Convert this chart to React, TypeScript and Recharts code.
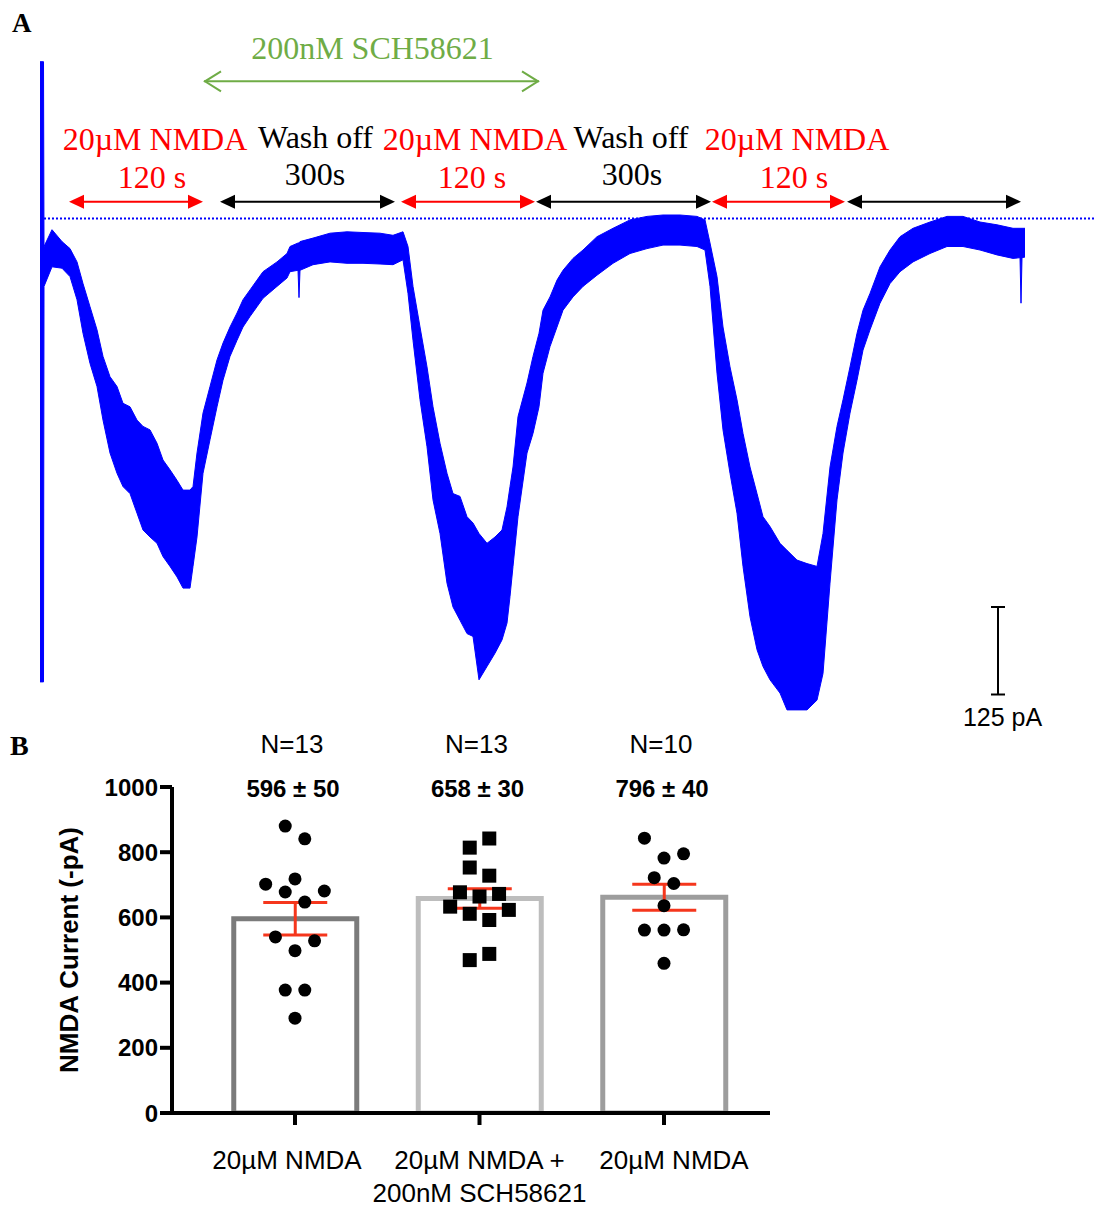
import React from "react";
import {
  ComposedChart,
  Area,
  Bar,
  Cell,
  ErrorBar,
  Scatter,
  XAxis,
  YAxis,
  ReferenceLine,
} from "recharts";

// ---- Panel A: whole-cell current trace (envelope of the noisy trace, pA) ----
const TRACE_T = [
  -4, -0.5, 0, 8, 18, 26, 33, 39, 46, 53, 59, 66, 73, 79, 86, 93, 99, 106, 113, 119, 126, 133, 139, 146, 149,
  153, 159, 166, 173, 179, 186, 193, 199, 206, 213, 219, 233, 243, 246, 254, 255, 256, 269, 286, 303, 319, 336,
  349, 359, 364, 369, 376, 383, 389, 396, 403, 409, 416, 423, 429, 435, 443, 451, 458, 463, 466, 469, 474, 483,
  489, 495, 499, 506, 513, 519, 529, 539, 553, 569, 586, 603, 619, 636, 653, 661, 666, 673, 679, 686, 693, 699,
  706, 713, 719, 726, 736, 743, 753, 763, 773, 779, 786, 793, 799, 806, 813, 819, 826, 836, 846, 856, 869, 886,
  903, 919, 936, 953, 969, 976, 977, 978, 981,
];
const TRACE_HIGH = [
  224, 224, -40, -16, -33, -43, -62, -93, -126, -159, -197, -226, -240, -264, -269, -288, -297, -302, -321, -345,
  -359, -374, -388, -388, -383, -335, -278, -240, -202, -178, -155, -135, -116, -102, -88, -76, -62, -50, -40,
  -35, -35, -33, -28, -21, -19, -20, -21, -24, -19, -40, -97, -155, -212, -269, -321, -364, -393, -397, -426,
  -435, -450, -464, -455, -445, -412, -383, -355, -283, -235, -197, -164, -131, -112, -88, -74, -57, -45, -26,
  -14, -2, 3, 5, 5, 3, -2, -35, -83, -155, -212, -259, -307, -355, -393, -426, -440, -464, -474, -488, -493,
  -497, -450, -355, -297, -259, -212, -164, -131, -107, -69, -45, -26, -14, -5, 3, 3, -5, -9, -14, -14, -14,
  -14, -14,
];
const TRACE_LOW = [
  -662, -662, -97, -69, -71, -83, -116, -164, -207, -240, -288, -335, -364, -383, -393, -421, -445, -455, -464,
  -483, -497, -512, -528, -528, -497, -455, -364, -316, -269, -231, -197, -174, -155, -140, -126, -114, -97,
  -85, -76, -74, -113, -74, -66, -62, -64, -64, -65, -66, -59, -107, -174, -259, -326, -402, -450, -521, -555,
  -574, -593, -597, -659, -640, -621, -602, -578, -540, -497, -426, -335, -307, -269, -221, -183, -155, -131,
  -112, -97, -81, -64, -50, -43, -38, -38, -40, -45, -97, -221, -302, -364, -421, -497, -569, -616, -640, -659,
  -678, -702, -702, -702, -688, -650, -521, -402, -335, -278, -231, -188, -159, -121, -93, -76, -62, -50, -40,
  -40, -45, -52, -57, -56, -121, -56, -55,
];

// protocol phases (same time units as the trace)
const PHASE_START = [25, 176, 357, 492, 668, 803];
const PHASE_END = [159, 351, 491, 667, 801, 977];
const PHASE_KIND = ["nmda", "wash", "nmda", "wash", "nmda", "wash"];
const DRUG_START = 160;
const DRUG_END = 495;
const SCALE_T = 954;
const SCALE_FROM = -555;
const SCALE_PA = 125;

// ---- Panel B: summary bars ----
const CAT_LINE1 = ["20µM NMDA", "20µM NMDA +", "20µM NMDA"];
const CAT_LINE2 = ["", "200nM SCH58621", ""];
const N_LABELS = ["N=13", "N=13", "N=10"];
const MEAN_LABELS = ["596 ± 50", "658 ± 30", "796 ± 40"];
const MEANS = [596, 658, 662];
const SEMS = [50, 30, 40];

const G1_VALUES = [880, 841, 702, 718, 681, 678, 647, 540, 528, 498, 377, 377, 291];
const G1_JITTER = [-0.053, 0.053, -0.159, 0, 0.159, -0.053, 0.053, -0.106, 0.106, 0, -0.053, 0.053, 0];
const G2_VALUES = [814, 842, 753, 728, 677, 664, 672, 633, 623, 611, 592, 469, 488];
const G2_JITTER = [-0.053, 0.053, -0.053, 0.053, -0.106, 0, 0.106, -0.159, 0.159, -0.053, 0.053, -0.053, 0.053];
const G3_VALUES = [843, 782, 795, 722, 704, 636, 561, 561, 562, 459];
const G3_JITTER = [-0.106, 0, 0.106, -0.053, 0.053, 0, -0.106, 0, 0.106, 0];

const BAR_STROKES = ["#7b7b7b", "#bdbdbd", "#9d9d9d"];
const LABEL_NUDGE = [-8, 0, 10];
const RED = "#ff0000";
const GREEN = "#6fac46";
const BLUE = "#0000ff";
const ERR_RED = "#f5361c";
const SERIF = "'Liberation Serif', 'Times New Roman', serif";
const SANS = "'Liberation Sans', Arial, sans-serif";
const X_DOMAIN: [number, number] = [0.3333, 3.5745];

const traceData = TRACE_T.map((t, i) => ({ t, range: [TRACE_LOW[i], TRACE_HIGH[i]] }));
const barData = MEANS.map((m, i) => ({ x: i + 1, mean: m, err: SEMS[i] }));
const dots1 = G1_VALUES.map((v, i) => ({ x: 1 + G1_JITTER[i], y: v }));
const dots2 = G2_VALUES.map((v, i) => ({ x: 2 + G2_JITTER[i], y: v }));
const dots3 = G3_VALUES.map((v, i) => ({ x: 3 + G3_JITTER[i], y: v }));

const solidArrow = (color: string) => (p: any) => {
  const { x1, y1, x2, y2 } = p;
  return (
    <g>
      <line x1={x1 + 8} y1={y1} x2={x2 - 8} y2={y2} stroke={color} strokeWidth={2} />
      <polygon points={`${x1},${y1} ${x1 + 15},${y1 - 7} ${x1 + 15},${y1 + 7}`} fill={color} />
      <polygon points={`${x2},${y2} ${x2 - 15},${y2 - 7} ${x2 - 15},${y2 + 7}`} fill={color} />
    </g>
  );
};

const openArrow = (p: any) => {
  const { x1, y1, x2, y2 } = p;
  return (
    <g fill="none" stroke={GREEN} strokeWidth={2}>
      <line x1={x1} y1={y1} x2={x2} y2={y2} />
      <polyline points={`${x1 + 17},${y1 - 10} ${x1 + 1},${y1} ${x1 + 17},${y1 + 10}`} />
      <polyline points={`${x2 - 17},${y2 - 10} ${x2 - 1},${y2} ${x2 - 17},${y2 + 10}`} />
    </g>
  );
};

const scaleBar = (p: any) => {
  const { x1, y1, x2, y2 } = p;
  return (
    <g stroke="#000" strokeWidth={2}>
      <line x1={x1} y1={y1} x2={x2} y2={y2} />
      <line x1={x1 - 7} y1={y1} x2={x1 + 7} y2={y1} />
      <line x1={x2 - 7} y1={y2} x2={x2 + 7} y2={y2} />
    </g>
  );
};

function TracePanel() {
  return (
    <ComposedChart
      width={1094}
      height={740}
      data={traceData}
      margin={{ top: 1.5, right: 0, bottom: 3.5, left: 0 }}
    >
      <XAxis type="number" dataKey="t" domain={[-44, 1050]} hide allowDataOverflow />
      <YAxis type="number" domain={[-740, 310]} hide allowDataOverflow />
      <ReferenceLine
        segment={[{ x: 0, y: 0 }, { x: 1050, y: 0 }]}
        stroke={BLUE}
        strokeWidth={2}
        strokeDasharray="2 2"
        ifOverflow="visible"
      />
      <Area
        type="linear"
        dataKey="range"
        stroke={BLUE}
        strokeWidth={1}
        fill={BLUE}
        fillOpacity={1}
        dot={false}
        activeDot={false}
        isAnimationActive={false}
      />
      {PHASE_START.map((s, i) => (
        <ReferenceLine
          key={`ph-${i}`}
          segment={[{ x: s, y: 24 }, { x: PHASE_END[i], y: 24 }]}
          ifOverflow="visible"
          shape={solidArrow(PHASE_KIND[i] === "nmda" ? RED : "#000")}
        />
      ))}
      <ReferenceLine
        segment={[{ x: DRUG_START, y: 196 }, { x: DRUG_END, y: 196 }]}
        ifOverflow="visible"
        shape={openArrow}
      />
      <ReferenceLine
        segment={[{ x: SCALE_T, y: SCALE_FROM }, { x: SCALE_T, y: SCALE_FROM - SCALE_PA }]}
        ifOverflow="visible"
        shape={scaleBar}
      />
    </ComposedChart>
  );
}

function TraceText() {
  const t = (x: number, y: number, s: string, fill: string) => (
    <text x={x} y={y} fill={fill} fontFamily={SERIF} fontSize={32} textAnchor="middle">
      {s}
    </text>
  );
  return (
    <svg width={1094} height={760} style={{ position: "absolute", left: 0, top: 0, pointerEvents: "none" }}>
      <text x={12} y={32} fontFamily={SERIF} fontWeight="bold" fontSize={27}>A</text>
      {t(372.5, 59, "200nM SCH58621", GREEN)}
      {t(155, 150, "20µM NMDA", RED)}
      {t(152, 188, "120 s", RED)}
      {t(315.5, 148, "Wash off", "#000")}
      {t(315, 185, "300s", "#000")}
      {t(475, 150, "20µM NMDA", RED)}
      {t(472, 188, "120 s", RED)}
      {t(631, 148, "Wash off", "#000")}
      {t(632, 185, "300s", "#000")}
      {t(797, 150, "20µM NMDA", RED)}
      {t(794, 188, "120 s", RED)}
      <text x={1002.5} y={726} fontFamily={SANS} fontSize={25} textAnchor="middle" fill="#000">
        125 pA
      </text>
      <text x={10} y={755} fontFamily={SERIF} fontWeight="bold" fontSize={28}>B</text>
    </svg>
  );
}

const TopTick = (props: any) => {
  const { x, y, payload } = props;
  const i = Math.round(payload.value) - 1;
  return (
    <g>
      <text x={x - 3} y={y - 32} textAnchor="middle" fontFamily={SANS} fontSize={26} fill="#000">
        {N_LABELS[i]}
      </text>
      <text x={x - 2} y={y + 12} textAnchor="middle" fontFamily={SANS} fontSize={24} fontWeight="bold" fill="#000">
        {MEAN_LABELS[i]}
      </text>
    </g>
  );
};

const CatTick = (props: any) => {
  const { x, y, payload } = props;
  const i = Math.round(payload.value) - 1;
  const cx = x + LABEL_NUDGE[i];
  return (
    <g fontFamily={SANS} fontSize={26} fill="#000">
      <text x={cx} y={y + 42} textAnchor="middle">{CAT_LINE1[i]}</text>
      {CAT_LINE2[i] ? (
        <text x={cx} y={y + 75} textAnchor="middle">{CAT_LINE2[i]}</text>
      ) : null}
    </g>
  );
};

const YTitle = (props: any) => {
  const vb = props.viewBox || { x: 0, y: 0, height: 0 };
  const cx = vb.x + 69;
  const cy = vb.y + vb.height / 2;
  return (
    <text
      x={cx}
      y={cy}
      transform={`rotate(-90, ${cx}, ${cy})`}
      textAnchor="middle"
      dominantBaseline="central"
      fontFamily={SANS}
      fontWeight="bold"
      fontSize={26}
      fill="#000"
    >
      NMDA Current (-pA)
    </text>
  );
};

const circleDot = (p: any) => <circle cx={p.cx} cy={p.cy} r={6.5} fill="#000" />;
const squareDot = (p: any) => <rect x={p.cx - 7} y={p.cy - 7} width={14} height={14} fill="#000" />;

function SummaryPanel() {
  return (
    <ComposedChart
      width={800}
      height={488}
      data={barData}
      margin={{ top: 7, right: 30, bottom: 0, left: 0 }}
    >
      <XAxis
        xAxisId="top"
        orientation="top"
        type="number"
        dataKey="x"
        domain={X_DOMAIN}
        ticks={[1, 2, 3]}
        height={60}
        axisLine={false}
        tickLine={false}
        tickSize={0}
        tick={TopTick}
        allowDataOverflow
      />
      <XAxis
        xAxisId="dots"
        type="number"
        dataKey="x"
        domain={X_DOMAIN}
        height={0}
        hide
        allowDataOverflow
      />
      <XAxis
        type="number"
        dataKey="x"
        domain={X_DOMAIN}
        ticks={[1, 2, 3]}
        height={95}
        axisLine={{ stroke: "#000", strokeWidth: 4 }}
        tickLine={{ stroke: "#000", strokeWidth: 4 }}
        tickSize={12}
        tick={CatTick}
        allowDataOverflow
      />
      <YAxis
        type="number"
        domain={[0, 1000]}
        ticks={[0, 200, 400, 600, 800, 1000]}
        width={172}
        axisLine={{ stroke: "#000", strokeWidth: 4 }}
        tickLine={{ stroke: "#000", strokeWidth: 4 }}
        tickSize={12}
        tick={{ fill: "#000", fontSize: 24, fontWeight: "bold", fontFamily: SANS }}
        label={{ content: YTitle }}
        allowDataOverflow
      />
      <Bar dataKey="mean" barSize={123} fill="#fff" strokeWidth={5} isAnimationActive={false}>
        {barData.map((d, i) => (
          <Cell key={`c-${i}`} stroke={BAR_STROKES[i]} />
        ))}
        <ErrorBar dataKey="err" direction="y" width={32} stroke={ERR_RED} strokeWidth={3} />
      </Bar>
      <Scatter xAxisId="dots" data={dots1} dataKey="y" shape={circleDot} isAnimationActive={false} />
      <Scatter xAxisId="dots" data={dots2} dataKey="y" shape={squareDot} isAnimationActive={false} />
      <Scatter xAxisId="dots" data={dots3} dataKey="y" shape={circleDot} isAnimationActive={false} />
    </ComposedChart>
  );
}

export default function App() {
  return (
    <div style={{ position: "absolute", left: 0, top: 0, width: 1094, height: 1208, background: "#fff" }}>
      <div style={{ position: "absolute", left: 0, top: 0 }}>
        <TracePanel />
      </div>
      <TraceText />
      <div style={{ position: "absolute", left: 0, top: 720 }}>
        <SummaryPanel />
      </div>
    </div>
  );
}
